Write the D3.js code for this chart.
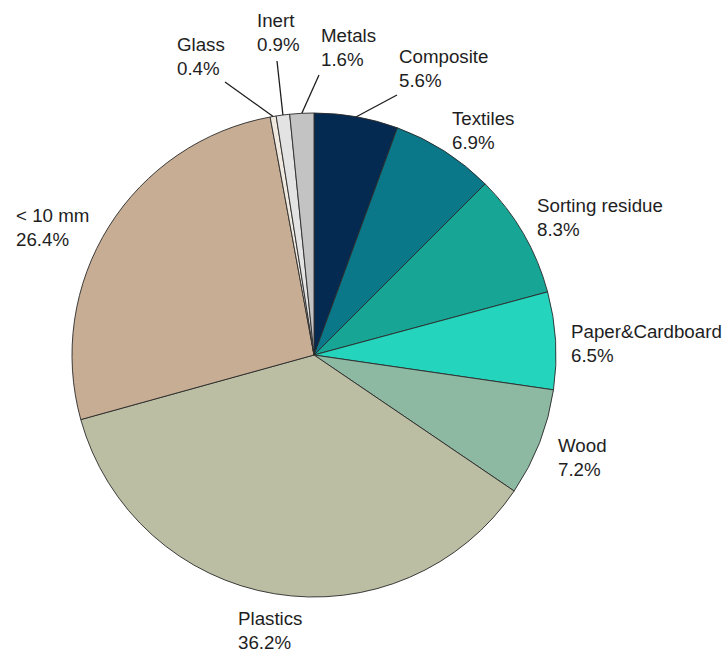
<!DOCTYPE html>
<html>
<head>
<meta charset="utf-8">
<script src="https://cdn.jsdelivr.net/npm/d3@7"></script>
<style>
  html, body { margin: 0; padding: 0; background: #fff; }
  svg { display: block; }
  text { font-family: "Liberation Sans", Arial, sans-serif; fill: #1e1e1e; }
</style>
</head>
<body>
<svg id="chart" width="724" height="652"></svg>
<script>
// Waste fractions, clockwise from 12 o'clock
const categories = ["Composite", "Textiles", "Sorting residue", "Paper&Cardboard", "Wood",
                    "Plastics", "< 10 mm", "Glass", "Inert", "Metals"];
const shares = [5.6, 6.9, 8.3, 6.5, 7.2, 36.2, 26.4, 0.4, 0.9, 1.6];
const colors = ["#052a52", "#0a7888", "#17a596", "#24d4bd", "#8db8a2",
                "#bbbea3", "#c6ad94", "#efe9e0", "#e3e3e3", "#c3c3c3"];

// Where each two-line label sits (left edge, first baseline)
const labelPos = {
  "Composite":       [399, 63],
  "Textiles":        [452, 125],
  "Sorting residue": [537, 212],
  "Paper&Cardboard": [571, 338],
  "Wood":            [558, 452],
  "Plastics":        [238, 625],
  "< 10 mm":         [16, 222],
  "Glass":           [177, 51],
  "Inert":           [257, 27],
  "Metals":          [321, 42]
};
// Short leader lines for the narrow slices near the top: outer end point
const leaderEnd = {
  "Glass":     [225, 82],
  "Inert":     [277, 61],
  "Metals":    [319, 75],
  "Composite": [397, 95]
};

const cx = 314, cy = 355, radius = 242;
const svg = d3.select("#chart");

const data = categories.map((c, i) => ({ name: c, value: shares[i], color: colors[i] }));

const pie = d3.pie().value(d => d.value).sort(null);
const arc = d3.arc().innerRadius(0).outerRadius(radius);
const arcs = pie(data);

const g = svg.append("g").attr("transform", `translate(${cx},${cy})`);

g.selectAll("path.slice")
  .data(arcs)
  .join("path")
  .attr("class", "slice")
  .attr("d", arc)
  .attr("fill", d => d.data.color)
  .attr("stroke", "#2a2a2a")
  .attr("stroke-width", 0.9)
  .attr("stroke-linejoin", "round");

// Leader lines from slice rim to label
arcs.filter(d => leaderEnd[d.data.name]).forEach(d => {
  const mid = (d.startAngle + d.endAngle) / 2;
  const x0 = cx + radius * Math.sin(mid);
  const y0 = cy - radius * Math.cos(mid);
  const [x1, y1] = leaderEnd[d.data.name];
  svg.append("line")
    .attr("x1", x0).attr("y1", y0)
    .attr("x2", x1).attr("y2", y1)
    .attr("stroke", "#1e1e1e")
    .attr("stroke-width", 1.3);
});

// Labels: name and share on two lines, set slightly wide
const labels = svg.selectAll("text.lbl")
  .data(arcs)
  .join("text")
  .attr("class", "lbl")
  .attr("font-size", 17.5)
  .attr("transform", d => `translate(${labelPos[d.data.name][0]},${labelPos[d.data.name][1]}) scale(1.07,1)`);

labels.append("tspan")
  .attr("x", 0)
  .text(d => d.data.name);
labels.append("tspan")
  .attr("x", 0)
  .attr("dy", 24)
  .text(d => d3.format(".1f")(d.data.value) + "%");
</script>
</body>
</html>
